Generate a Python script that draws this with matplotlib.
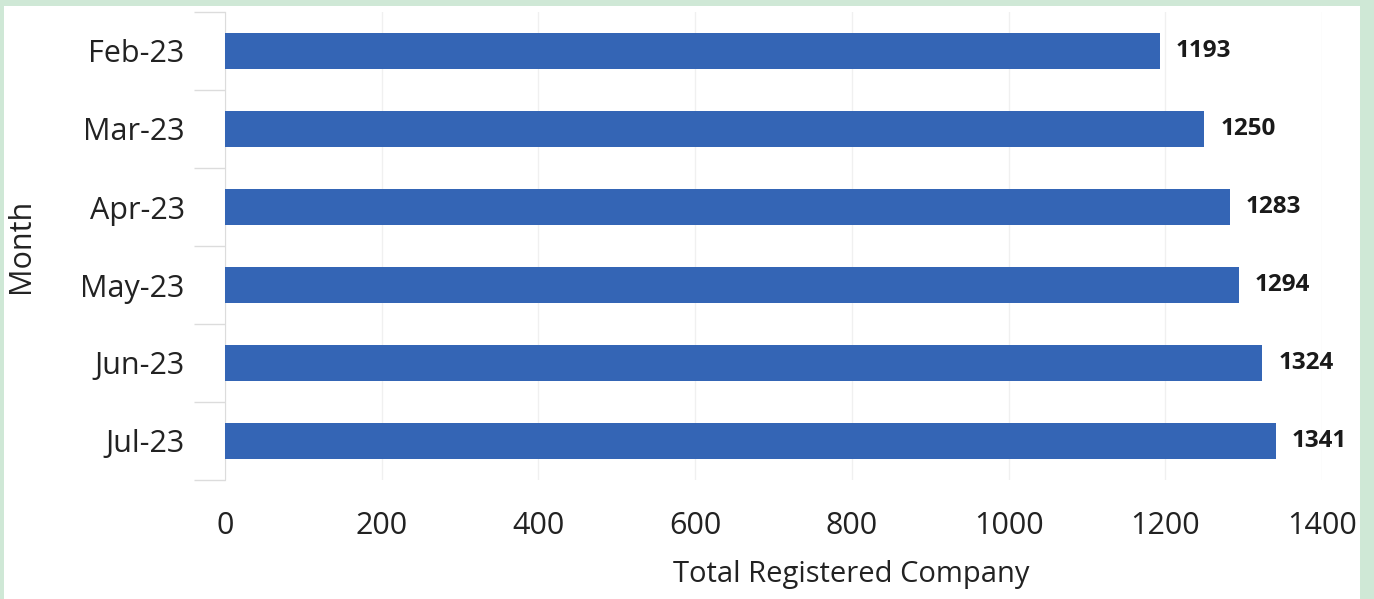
import matplotlib
matplotlib.use("Agg")
import matplotlib.pyplot as plt
from matplotlib.patches import Rectangle

months = ["Feb-23", "Mar-23", "Apr-23", "May-23", "Jun-23", "Jul-23"]
companies = [1193, 1250, 1283, 1294, 1324, 1341]
x_ticks = [0, 200, 400, 600, 800, 1000, 1200, 1400]

W, H = 1374, 599
FONT = "Open Sans"
fig = plt.figure(figsize=(W / 100, H / 100), dpi=100)
fig.patch.set_facecolor("#cfe8d6")
# white panel inside green frame
fig.patches.append(Rectangle((4 / W, 0), (1360 - 4) / W, 1 - 6 / H,
                             transform=fig.transFigure, facecolor="white",
                             edgecolor="none", zorder=-5))

ax = fig.add_axes([225 / W, 1 - 480 / H, (1322 - 225) / W, (480 - 12) / H])
ax.set_zorder(2)
ax.set_facecolor("none")

ypos = list(range(len(months)))
ax.barh(ypos, companies, height=0.47, color="#3465b5", zorder=3)
for y, v in zip(ypos, companies):
    ax.text(v + 20, y, str(v), va="center", ha="left", fontsize=17.5,
            fontweight="bold", color="#1a1a1a", family=FONT)

ax.set_ylim(len(months) - 0.5, -0.5)
ax.set_xlim(0, 1400)
ax.set_yticks(ypos)
ax.set_yticklabels(months, fontsize=22, family=FONT, color="#222222")
ax.set_yticks([i - 0.5 for i in range(len(months) + 1)], minor=True)
ax.tick_params(axis="y", which="major", length=0, pad=29)
ax.tick_params(axis="y", which="minor", length=22, color="#dcdcdc", width=1)
ax.set_xticks(x_ticks)
ax.set_xticklabels([str(t) for t in x_ticks], fontsize=22, family=FONT,
                   color="#222222")
ax.tick_params(axis="x", length=0, pad=22)

ax.grid(axis="x", color="#f0f0f0", linewidth=1, zorder=0)
for s in ["top", "right", "bottom"]:
    ax.spines[s].set_visible(False)
ax.spines["left"].set_color("#dcdcdc")

ax.set_xlabel("Total Registered Company", fontsize=21, family=FONT,
              color="#222222")
ax.xaxis.set_label_coords(0.571, -0.172)
ax.set_ylabel("Month", fontsize=22, family=FONT, color="#222222")
ax.yaxis.set_label_coords(-0.172, 0.5)

fig.savefig("out.png", dpi=100, facecolor=fig.get_facecolor())
